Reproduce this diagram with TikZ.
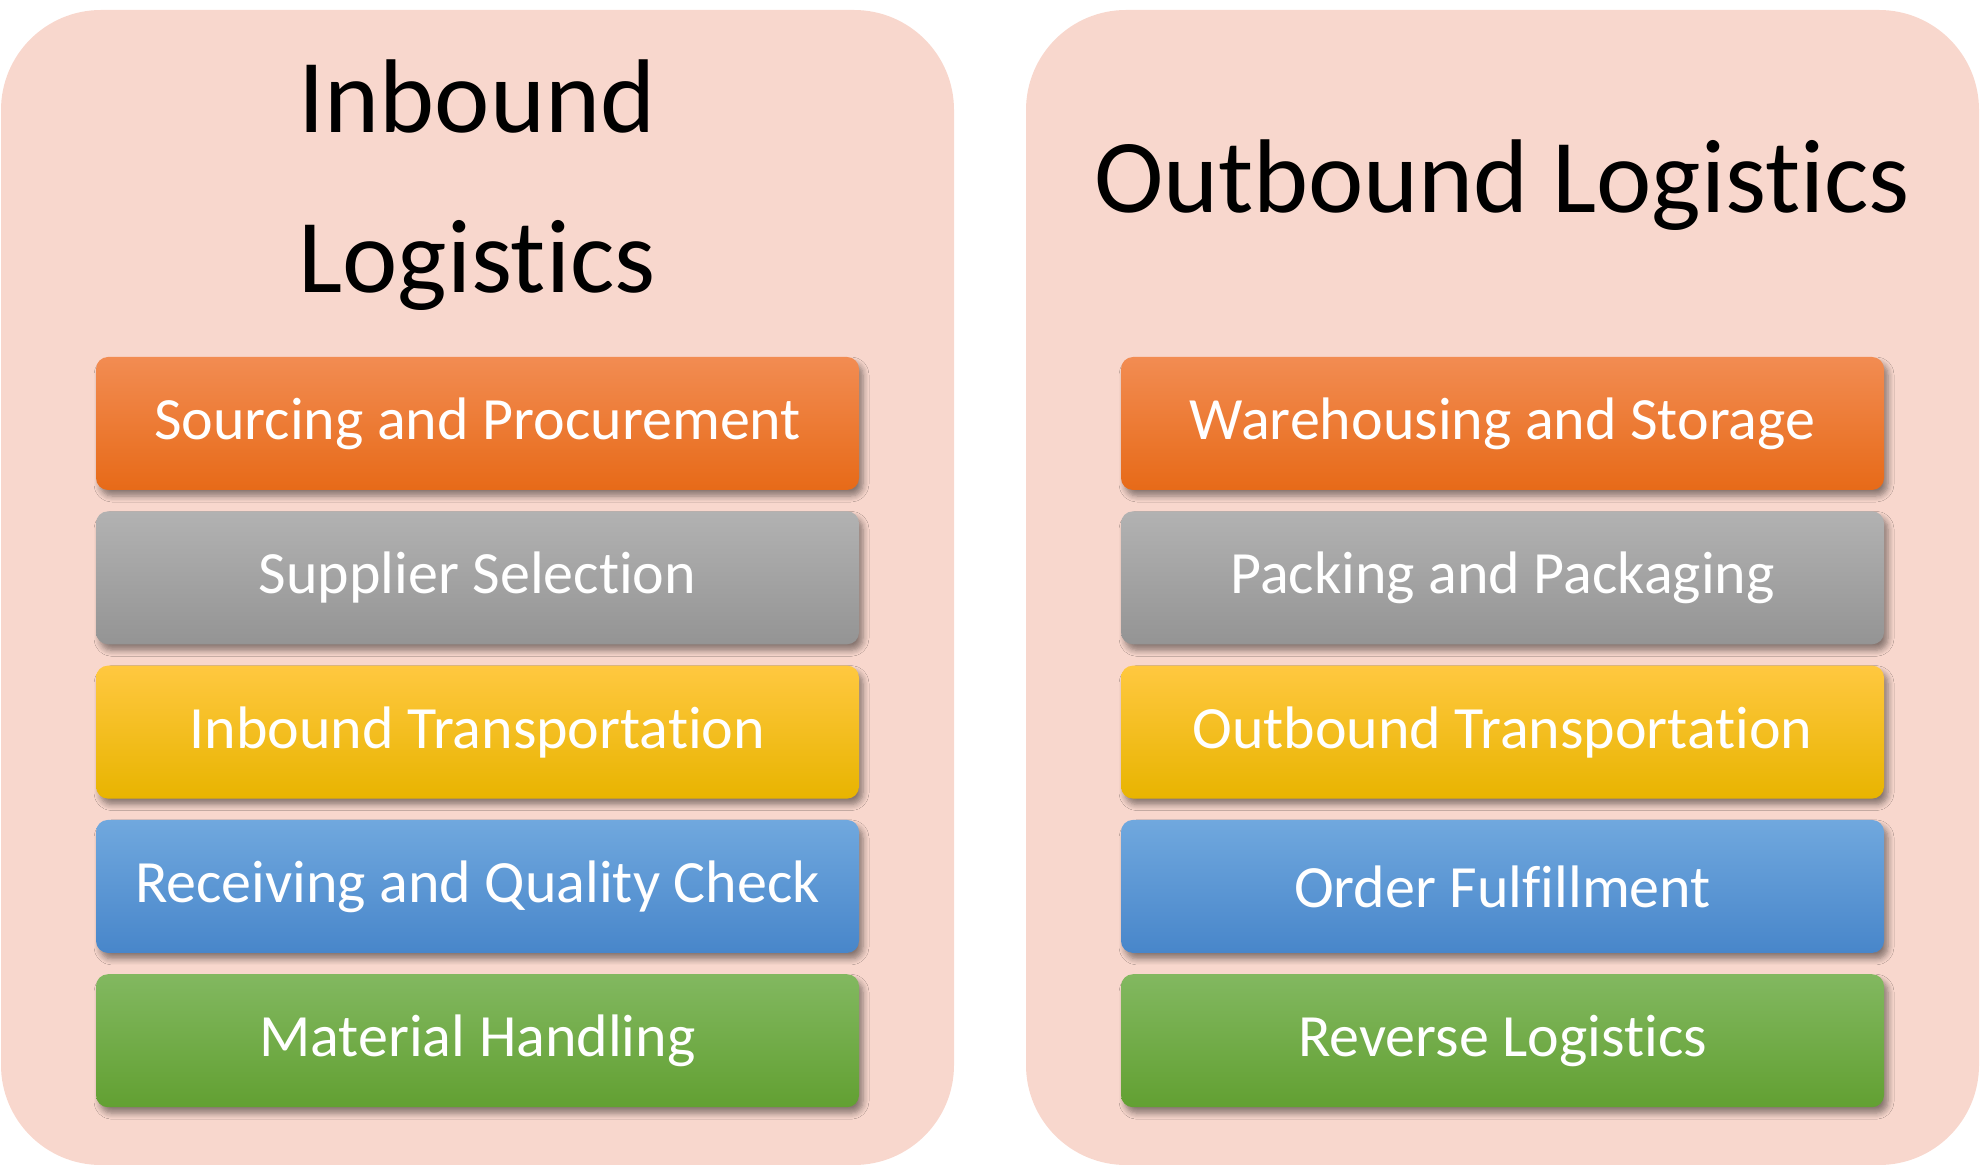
\documentclass[tikz,border=0pt]{standalone}
\usepackage{fontspec}
\setmainfont{Carlito}[RawFeature={-liga;-clig;-calt;-dlig}]
\usetikzlibrary{shadows.blur}
\definecolor{panelpink}{HTML}{F8D7CD}
\tikzset{
  panel/.style={fill=panelpink, draw=none, rounded corners=50pt},
  title/.style={anchor=base, text=black, inner sep=0pt, font=\fontsize{52.4}{60}\selectfont},
  tile/.style={minimum width=381.5pt, minimum height=66.5pt, rounded corners=6pt, inner sep=0pt,
    text=white, font=\fontsize{30}{36}\selectfont,
    blur shadow={shadow xshift=2pt, shadow yshift=-3pt, shadow blur steps=6, shadow blur radius=3pt, shadow opacity=45}},
  orangetile/.style={top color={rgb,255:red,242;green,140;blue,82}, bottom color={rgb,255:red,231;green,106;blue,24}},
  graytile/.style={top color={rgb,255:red,178;green,178;blue,178}, bottom color={rgb,255:red,148;green,148;blue,148}},
  yellowtile/.style={top color={rgb,255:red,255;green,200;blue,64}, bottom color={rgb,255:red,232;green,180;blue,0}},
  bluetile/.style={top color={rgb,255:red,112;green,168;blue,222}, bottom color={rgb,255:red,72;green,134;blue,202}},
  greentile/.style={top color={rgb,255:red,130;green,184;blue,96}, bottom color={rgb,255:red,98;green,160;blue,50}}
}
\begin{document}
\begin{tikzpicture}[x=0.5pt, y=-0.5pt]
\useasboundingbox (0,0) rectangle (1980,1165);
% panels
\fill[panel] (1,10) rectangle (954,1165);
\fill[panel] (1026,10) rectangle (1979,1165);
% titles
\node[title] (intop) at (477,133) {Inbound};
\node[title] (inbot) at (477,293) {Logistics};
\node[title] (outtitle) at (1502,213) {Outbound Logistics};
% inbound steps
\node[tile, orangetile] (in1) at (477.5,423.5)  {Sourcing and Procurement};
\node[tile, graytile]   (in2) at (477.5,577.8)  {Supplier Selection};
\node[tile, yellowtile] (in3) at (477.5,732.1)  {Inbound Transportation};
\node[tile, bluetile]   (in4) at (477.5,886.4)  {Receiving and Quality Check};
\node[tile, greentile]  (in5) at (477.5,1040.7) {Material Handling};
% outbound steps
\node[tile, orangetile] (out1) at (1502.5,423.5)  {Warehousing and Storage};
\node[tile, graytile]   (out2) at (1502.5,577.8)  {Packing and Packaging};
\node[tile, yellowtile] (out3) at (1502.5,732.1)  {Outbound Transportation};
\node[tile, bluetile]   (out4) at (1502.5,886.4)  {Order Fulfillment};
\node[tile, greentile]  (out5) at (1502.5,1040.7) {Reverse Logistics};
\end{tikzpicture}
\end{document}
